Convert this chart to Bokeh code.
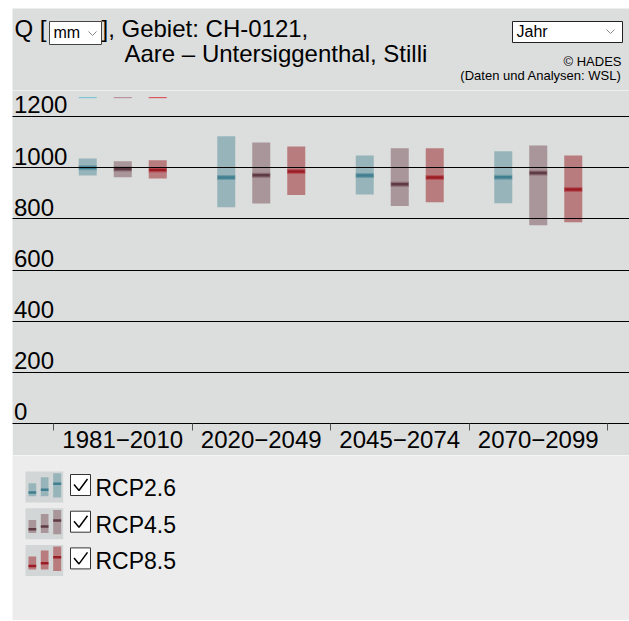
from bokeh.plotting import figure
from bokeh.models import Range1d, FixedTicker, Grid, ColumnDataSource
from bokeh.layouts import column
from bokeh.core.properties import value
from bokeh.embed import file_html
from bokeh.resources import INLINE

# ---------------- data ----------------
periods = ["1981\u22122010", "2020\u22122049", "2045\u22122074", "2070\u22122099"]
scenarios = ["RCP2.6", "RCP4.5", "RCP8.5"]
rcp26_low = [970, 846, 895, 861]
rcp26_high = [1036, 1123, 1048, 1064]
rcp26_med = [1000, 962, 970, 963]
rcp45_low = [963, 860, 850, 775]
rcp45_high = [1025, 1099, 1076, 1087]
rcp45_med = [995, 971, 935, 979]
rcp85_low = [958, 893, 865, 787]
rcp85_high = [1029, 1083, 1076, 1048]
rcp85_med = [991, 985, 962, 915]
y_ticks = [0, 200, 400, 600, 800, 1000, 1200]
unit_label = "mm"
title_rest = "], Gebiet: CH-0121,"
station = "Aare \u2013 Untersiggenthal, Stilli"
season = "Jahr"
credit1 = "\u00a9 HADES"
credit2 = "(Daten und Analysen: WSL)"

# ---------------- styles ----------------
FONT = "Liberation Sans"
BG = "#dcdddd"
LEG_BG = "#ebeceb"
fills = ["#97b4ba", "#a8969a", "#b87c7e"]
halos = ["#6e9ba6", "#8a6c74", "#b5545a"]
meds = ["#3f7f8f", "#5e3a45", "#9b1c24"]
tops = ["#6cc4d0", "#b58590", "#d9414a"]
W = 617
BASE_SHIFT = 0.36  # baseline correction (em)

def txt(p, x, y, t, size, align="left", color="black"):
    p.text(x=[x], y=[y], text=[t], text_font=value(FONT), text_font_size=f"{size}px",
           text_color=color, text_align=align, text_baseline="alphabetic",
           y_offset=-BASE_SHIFT * size)

# ---------------- header ----------------
hdr = figure(width=W, height=82, x_range=Range1d(12, 629), y_range=Range1d(90, 8),
             x_axis_type=None, y_axis_type=None, toolbar_location=None,
             output_backend="svg", min_border=0, background_fill_color=BG,
             border_fill_color=BG, outline_line_color=None)
txt(hdr, 14, 37, "Q [", 24)
hdr.quad(left=[49], right=[101], top=[21], bottom=[44], fill_color="white", line_color="#444", line_width=1)
txt(hdr, 53, 38, unit_label, 16)
txt(hdr, 101, 37, title_rest, 24)
txt(hdr, 124, 62, station, 24)
hdr.quad(left=[512], right=[622], top=[21], bottom=[42], fill_color="white", line_color="#222", line_width=1)
txt(hdr, 516, 37, season, 16)
hdr.multi_line(xs=[[88, 92, 96], [606, 610, 614]], ys=[[31, 35, 31], [29, 33, 29]],
               line_color="#888", line_width=1)
txt(hdr, 621, 66, credit1, 13, align="right")
txt(hdr, 621, 80, credit2, 13, align="right")

# ---------------- main chart ----------------
GROUP = 138.5
x0 = -41 / GROUP
x1 = x0 + W / GROUP
main = figure(width=W, height=365, x_range=Range1d(x0, x1), y_range=Range1d(0, 1302),
              y_axis_type=None, toolbar_location=None, output_backend="svg",
              min_border=0, min_border_bottom=32, background_fill_color=BG,
              border_fill_color=BG, outline_line_color=None)
main.xgrid.visible = False
main.add_layout(Grid(dimension=1, ticker=FixedTicker(ticks=y_ticks),
                     grid_line_color="black", grid_line_width=1, level="annotation"))

ax = main.xaxis[0]
centers = [i + 0.5 for i in range(len(periods))]
ax.ticker = FixedTicker(ticks=centers, minor_ticks=list(range(len(periods) + 1)))
ax.major_label_overrides = {c: lab for c, lab in zip(centers, periods)}
ax.axis_line_color = "black"
ax.major_tick_line_color = None
ax.major_tick_out = 0
ax.major_tick_in = 0
ax.minor_tick_line_color = "#555555"
ax.minor_tick_out = 7
ax.minor_tick_in = 0
ax.major_label_text_font = FONT
ax.major_label_text_font_size = "24px"
ax.major_label_text_color = "black"
ax.major_label_standoff = 0

main.text(x=[x0 + 1.5 / GROUP] * len(y_ticks), y=y_ticks, text=[str(t) for t in y_ticks],
          text_font=value(FONT), text_font_size="24px", text_color="black",
          text_align="left", text_baseline="alphabetic", y_offset=-3 - BASE_SHIFT * 24)

lows = [rcp26_low, rcp45_low, rcp85_low]
highs = [rcp26_high, rcp45_high, rcp85_high]
medians = [rcp26_med, rcp45_med, rcp85_med]
OFF = 35 / GROUP
BW = 18 / GROUP
for s in range(3):
    xs = [c + (s - 1) * OFF for c in centers]
    src = ColumnDataSource(dict(x=xs, low=lows[s], high=highs[s], med=medians[s]))
    main.vbar(x="x", width=BW, top="high", bottom="low", source=src,
              fill_color=fills[s], line_color=None)
    main.scatter(x="x", y="med", source=src, marker="dash", size=18,
                 line_color=halos[s], line_width=5)
    main.scatter(x="x", y="med", source=src, marker="dash", size=17,
                 line_color=meds[s], line_width=2.5)
    main.scatter(x=[xs[0]], y=[1274], marker="dash", size=18, line_color=tops[s], line_width=1)

# ---------------- legend ----------------
leg = figure(width=W, height=165, x_range=Range1d(12, 629), y_range=Range1d(620, 455),
             x_axis_type=None, y_axis_type=None, toolbar_location=None,
             output_backend="svg", min_border=0, background_fill_color=LEG_BG,
             border_fill_color=LEG_BG, outline_line_color=None)
for s, name in enumerate(scenarios):
    t = 471 + s * 36.7
    leg.quad(left=[25], right=[62.7], top=[t], bottom=[t + 31], fill_color="#d3d6d6", line_color=None)
    leg.quad(left=[28, 40.3, 52.7], right=[35.7, 48, 60.7],
             top=[t + 11.7, t + 5.7, t + 1.7], bottom=[t + 24.7, t + 24.7, t + 26],
             fill_color=fills[s], line_color=None)
    leg.segment(x0=[28, 40.3, 52.7], x1=[35.7, 48, 60.7],
                y0=[t + 21, t + 18.3, t + 12.3], y1=[t + 21, t + 18.3, t + 12.3],
                line_color=meds[s], line_width=2.5)
    leg.quad(left=[70], right=[90], top=[t + 3], bottom=[t + 24], fill_color="white",
             line_color="#333", line_width=1)
    leg.line(x=[73.5, 78.5, 87], y=[t + 13, t + 19, t + 7.5], line_color="black", line_width=1.5)
    txt(leg, 95, t + 24.7, name, 23)

layout = column(hdr, main, leg, spacing=0)
layout.margin = (8, 0, 0, 12)
open("out.html", "w").write(file_html(layout, INLINE))
